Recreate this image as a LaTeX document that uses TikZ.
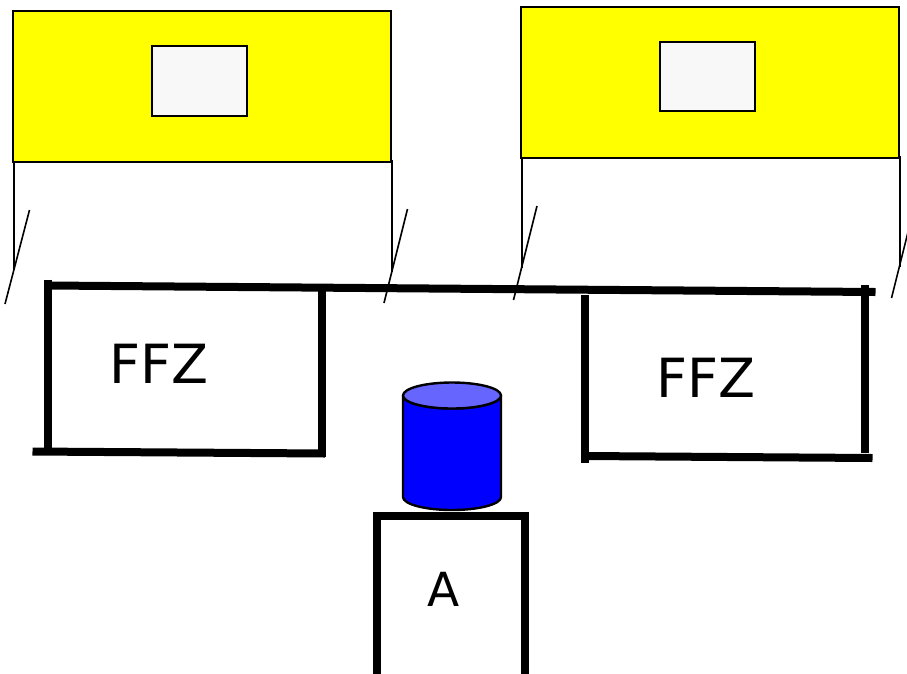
\documentclass[tikz,border=0pt]{standalone}
\usepackage{fontspec}
\setmainfont{DejaVu Sans}
\definecolor{paleblue}{RGB}{102,102,255}
\definecolor{panel}{RGB}{248,248,248}
\definecolor{pureyellow}{RGB}{255,255,0}
\definecolor{pureblue}{RGB}{0,0,255}
\tikzset{
  yellowbox/.style={draw=black,fill=pureyellow,line width=1.6pt},
  innerbox/.style={draw=black,fill=panel,line width=1.6pt},
  thinline/.style={draw=black,line width=1.6pt},
  thickline/.style={draw=black,line width=8pt},
  drum/.style={draw=black,line width=2.4pt,line join=round},
  label/.style={inner sep=0pt,anchor=base west,font=\fontsize{54}{54}\selectfont},
  smalllabel/.style={inner sep=0pt,anchor=base west,font=\fontsize{47}{47}\selectfont}
}
\begin{document}
\begin{tikzpicture}[x=1pt,y=-1pt]
\useasboundingbox (0,0) rectangle (907,673);
\clip (0,0) rectangle (907,673);
\fill[white] (0,0) rectangle (907,673);
% yellow panels
\draw[yellowbox] (13,11) rectangle (391,162);
\draw[innerbox] (152,46) rectangle (247,116);
\draw[yellowbox] (521,7) rectangle (899,158);
\draw[innerbox] (660,42) rectangle (755,111);
% thin verticals
\draw[thinline] (14,162) -- (14,270);
\draw[thinline] (392,160) -- (392,272);
\draw[thinline] (522,158) -- (522,268);
\draw[thinline] (900,156) -- (900,267);
% slashes
\draw[thinline] (29.5,210) -- (5,304);
\draw[thinline] (407.5,209) -- (384,303);
\draw[thinline] (537,206) -- (513.5,300);
\draw[thinline] (915,204) -- (891.5,298);
% thick lines
\draw[thickline] (48,285.5) -- (875.5,292);
\draw[thickline] (47.5,279.5) -- (47.5,452);
\draw[thickline] (32.5,451.5) -- (325,453.5);
\draw[thickline] (321.5,289) -- (321.5,457);
\draw[thickline] (585,295) -- (585,463);
\draw[thickline] (585,456) -- (872.5,458);
\draw[thickline] (864.5,285) -- (864.5,453);
% cylinder
\draw[drum,fill=pureblue] (403,395.5) -- (403,497) arc[start angle=180,end angle=360,x radius=49,y radius=-13] -- (501,395.5) arc[start angle=360,end angle=180,x radius=49,y radius=-13] -- cycle;
\draw[drum,fill=paleblue] (452,395.5) ellipse[x radius=49,y radius=13];
% box A
\draw[thickline] (377,680) -- (377,516) -- (524.5,516) -- (524.5,680);
% texts
\node[label] (ffzleft) at (109.5,383.5) {FFZ};
\node[label] (ffzright) at (656,397.5) {FFZ};
\node[smalllabel] (boxa) at (427,606) {A};
\end{tikzpicture}
\end{document}
